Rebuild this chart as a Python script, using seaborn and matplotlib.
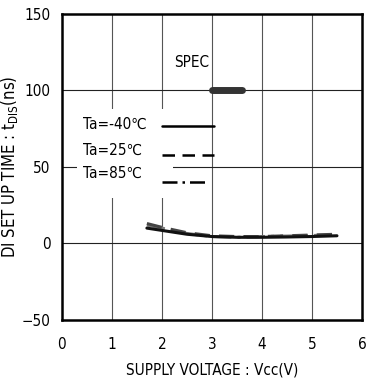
import matplotlib
matplotlib.use("Agg")
import matplotlib.pyplot as plt
import seaborn as sns
import pandas as pd
from matplotlib.patches import Rectangle

vcc = [1.7, 2.0, 2.5, 3.0, 3.5, 4.0, 4.5, 5.0, 5.5]
t_m40 = [10.0, 8.5, 6.0, 4.5, 4.0, 4.0, 4.2, 4.5, 5.0]
t_25 = [13.0, 10.5, 7.0, 5.0, 4.5, 4.5, 5.0, 5.5, 6.0]
t_85 = [12.0, 10.0, 6.5, 4.5, 4.0, 4.5, 4.8, 5.2, 5.5]
labels = ["Ta=-40℃", "Ta=25℃", "Ta=85℃"]
spec_x = [3.0, 3.6]
spec_y = [100, 100]
x_ticks = [0, 1, 2, 3, 4, 5, 6]
y_ticks = [-50, 0, 50, 100, 150]

sns.set_style("white", {'text.color': 'black', 'axes.labelcolor': 'black',
                        'xtick.color': 'black', 'ytick.color': 'black'})
plt.rcParams['font.family'] = ['DejaVu Sans']
plt.rcParams['font.stretch'] = 'condensed'

fig = plt.figure(figsize=(3.66, 3.85), dpi=100)
ax = fig.add_axes([0.169, 0.169, 0.820, 0.795])

for xv in [1, 2, 3, 4, 5]:
    ax.axvline(xv, color='#555555', lw=0.8, zorder=0)
for yv in [0, 50, 100]:
    ax.axhline(yv, color='#222222', lw=0.8, zorder=0)

# legend blanking box
ax.add_patch(Rectangle((0.3, 30), 1.92, 58, facecolor='white', edgecolor='none', zorder=1))

df = pd.DataFrame({
    'vcc': vcc * 3,
    't': t_m40 + t_25 + t_85,
    'Ta': [labels[0]] * len(vcc) + [labels[1]] * len(vcc) + [labels[2]] * len(vcc),
})
styles = {labels[0]: ('#111111', '-'), labels[1]: ('#444444', (0, (5, 3))), labels[2]: ('#777777', (0, (6, 2, 1, 2)))}
for lab in labels[::-1]:
    sub = df[df['Ta'] == lab]
    c, ls = styles[lab]
    sns.lineplot(data=sub, x='vcc', y='t', ax=ax, color=c, lw=2.2, linestyle=ls, zorder=3)

sns.lineplot(x=spec_x, y=spec_y, ax=ax, color='#333333', lw=5, solid_capstyle='round', zorder=3)
ax.text(2.24, 118, "SPEC", fontsize=11, va='center', ha='left', color='black')

leg_y_line = [77, 57.5, 40]
leg_y_text = [77.5, 61, 45.5]
leg_x_end = [3.05, 3.05, 2.92]
for i, lab in enumerate(labels):
    c, ls = styles[lab]
    ax.plot([2.0, leg_x_end[i]], [leg_y_line[i], leg_y_line[i]], color='black', lw=1.8, linestyle=ls, zorder=3)
    ax.text(0.42, leg_y_text[i], lab, fontsize=11, va='center', ha='left', zorder=4, color='black')

ax.set_xlim(0, 6)
ax.set_ylim(-50, 150)
ax.set_xticks(x_ticks)
ax.set_yticks(y_ticks)
ax.tick_params(axis='x', length=0, pad=12, labelsize=11, labelcolor='black')
ax.tick_params(axis='y', length=0, pad=8, labelsize=11, labelcolor='black')
ax.set_xlabel("SUPPLY VOLTAGE : Vcc(V)", fontsize=11, labelpad=8, color='black')
ax.set_ylabel("DI SET UP TIME : t$_{\\mathregular{DIS}}$(ns)", fontsize=12, color='black')
ax.yaxis.set_label_coords(-0.14, 0.5)
for s in ax.spines.values():
    s.set_linewidth(1.8)
    s.set_color('black')
    s.set_visible(True)
ax.grid(False)

fig.savefig("out.png", dpi=100)
